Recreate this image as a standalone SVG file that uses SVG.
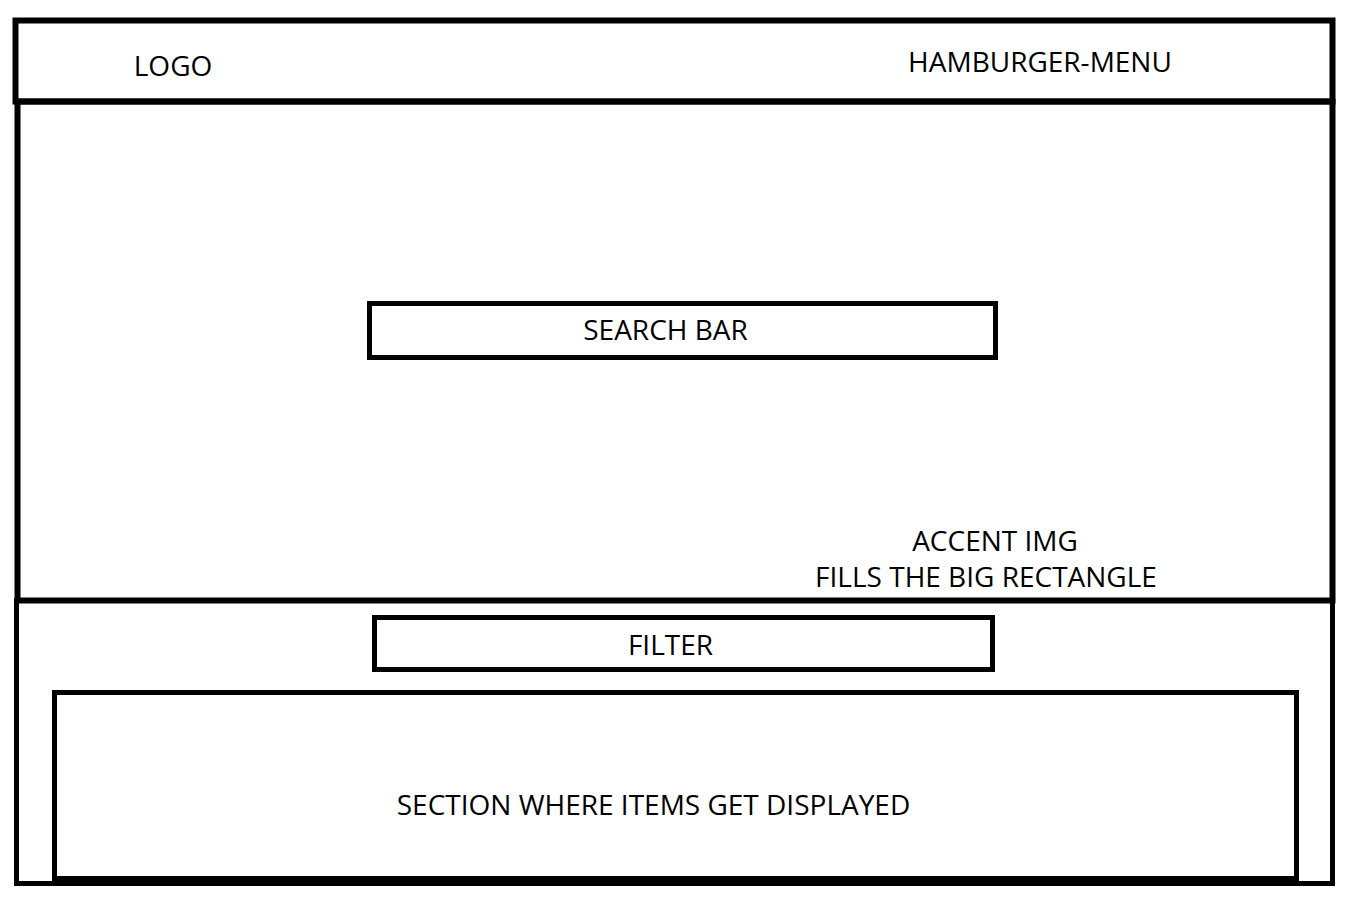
<svg xmlns="http://www.w3.org/2000/svg" width="1353" height="902" viewBox="0 0 1353 902">
<style>
.box{fill:none;stroke:#000;}
.t{font-family:"Open Sans","Noto Sans",sans-serif;font-size:28px;fill:#000;}
</style>
<rect width="1353" height="902" fill="#fff"/>
<g id="header">
<rect class="box" x="15.5" y="20.5" width="1317" height="81" stroke-width="6"/>
<text class="t" x="173" y="76" text-anchor="middle">LOGO</text>
<text class="t" x="1040" y="72" text-anchor="middle">HAMBURGER-MENU</text>
</g>
<g id="hero">
<rect class="box" x="17.5" y="101.5" width="1315" height="499" stroke-width="6"/>
<text class="t" x="995" y="551" text-anchor="middle">ACCENT IMG</text>
<text class="t" x="986" y="587" text-anchor="middle">FILLS THE BIG RECTANGLE</text>
</g>
<g id="search-bar">
<rect class="box" x="369.5" y="303.5" width="626" height="54" stroke-width="5"/>
<text class="t" x="665.5" y="340" text-anchor="middle">SEARCH BAR</text>
</g>
<g id="content">
<rect class="box" x="16.5" y="600.5" width="1316" height="283" stroke-width="5"/>
</g>
<g id="filter">
<rect class="box" x="374.5" y="617.5" width="618" height="52" stroke-width="5"/>
<text class="t" x="670.5" y="655" text-anchor="middle">FILTER</text>
</g>
<g id="items-section">
<rect class="box" x="54.5" y="692.5" width="1242" height="186" stroke-width="5"/>
<text class="t" x="653.5" y="815" text-anchor="middle">SECTION WHERE ITEMS GET DISPLAYED</text>
</g>
<g id="connectors"></g>
</svg>
